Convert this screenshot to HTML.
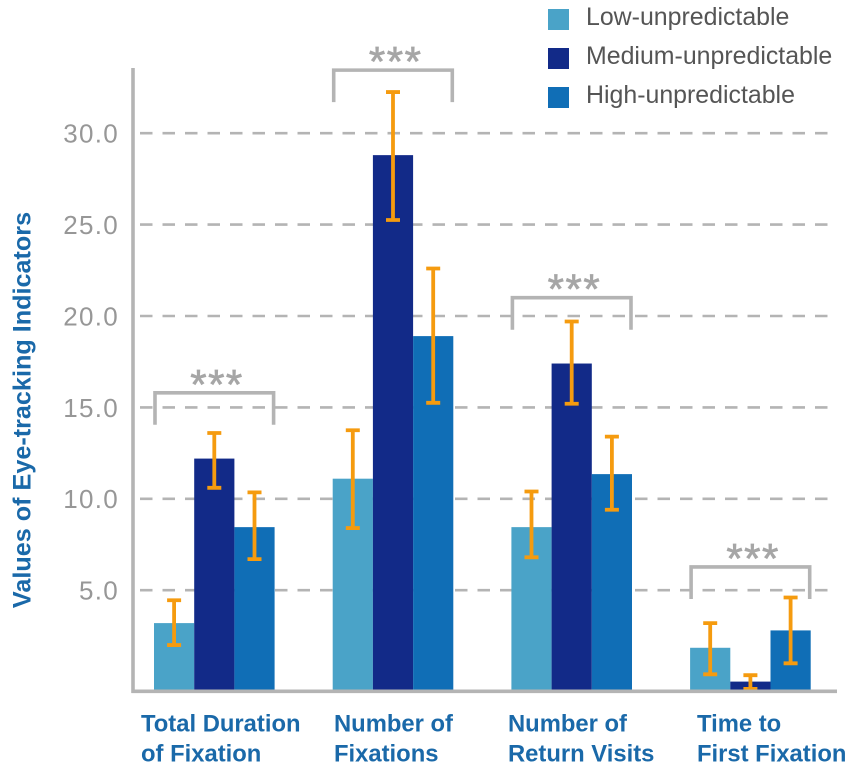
<!DOCTYPE html>
<html lang="en">
<head>
<meta charset="utf-8">
<title>Values of Eye-tracking Indicators</title>
<style>
html,body{margin:0;padding:0;background:#fff;width:851px;height:773px;overflow:hidden}
svg{display:block;font-family:"Liberation Sans",sans-serif}
</style>
</head>
<body>
<svg id="chart" xmlns="http://www.w3.org/2000/svg" width="851" height="773" viewBox="0 0 851 773"></svg>
<script>
const categories = [["Total Duration","of Fixation"],["Number of","Fixations"],["Number of","Return Visits"],["Time to","First Fixation"]];
const seriesNames = ["Low-unpredictable","Medium-unpredictable","High-unpredictable"];
const lowValues = [3.2, 11.1, 8.45, 1.85];
const mediumValues = [12.2, 28.8, 17.4, 0.0];
const highValues = [8.45, 18.9, 11.35, 2.8];
const lowErrTop = [4.45, 13.75, 10.4, 3.2];
const lowErrBottom = [2.0, 8.4, 6.8, 0.4];
const mediumErrTop = [13.6, 32.25, 19.7, 0.35];
const mediumErrBottom = [10.6, 25.25, 15.2, -0.4];
const highErrTop = [10.35, 22.6, 13.4, 4.6];
const highErrBottom = [6.7, 15.25, 9.4, 1.0];
const bracketLevels = [15.8, 33.45, 21.0, 6.27];
const yTicks = [5, 10, 15, 20, 25, 30];
const significance = ["***","***","***","***"];

const NS = "http://www.w3.org/2000/svg";
const svg = document.getElementById("chart");
const seriesColors = ["#4aa3c8","#122a88","#106eb6"];
const seriesKeys = ["low","medium","high"];
const values = [lowValues, mediumValues, highValues];
const errTop = [lowErrTop, mediumErrTop, highErrTop];
const errBottom = [lowErrBottom, mediumErrBottom, highErrBottom];
const baseY = 691;
const yScale = v => 681.6 - 18.28 * v;
const groupX = i => 154 + 178.7 * i;
const barW = 40.2;
const grey = "#b4b4b4";
const orange = "#f59b0f";
const blue = "#1a69a9";

function make(tag, attrs, text) {
  const el = document.createElementNS(NS, tag);
  for (const k in attrs) el.setAttribute(k, attrs[k]);
  if (text !== undefined) el.textContent = text;
  svg.appendChild(el);
  return el;
}

yTicks.forEach(t => {
  const g = make("line", {x1:140, x2:837, y1:yScale(t), y2:yScale(t), stroke:grey, "stroke-width":2.6, "stroke-dasharray":"12.5 10"});
  
  
  const l = make("text", {x:119, y:yScale(t) + 9.4, "text-anchor":"end", "font-size":26, "letter-spacing":"1.3px", fill:"#979797"}, t.toFixed(1));
  
  
});

categories.forEach((cat, i) => {
  values.forEach((vals, s) => {
    const top = yScale(vals[i]);
    const b = make("rect", {x:groupX(i) + s * barW, y:top, width:barW, height:baseY - top, fill:seriesColors[s]});
    
    
  });
});

categories.forEach((cat, i) => {
  values.forEach((vals, s) => {
    const cx = groupX(i) + (s + 0.5) * barW;
    const yT = yScale(errTop[s][i]);
    const yB = yScale(errBottom[s][i]);
    const e = make("path", {d:"M" + (cx - 7) + " " + yT + "H" + (cx + 7) + "M" + cx + " " + yT + "V" + yB + "M" + (cx - 7) + " " + yB + "H" + (cx + 7), fill:"none", stroke:orange, "stroke-width":3.8});
    
    
  });
  const left = groupX(i) + 1;
  const right = groupX(i) + barW * 3 - 1;
  const by = yScale(bracketLevels[i]);
  const br = make("path", {d:"M" + left + " " + (by + 32) + "V" + by + "H" + right + "V" + (by + 32), fill:"none", stroke:grey, "stroke-width":3.6});
  
  
  const st = make("text", {x:left + 62, y:by + 6, "text-anchor":"middle", "font-size":42, "letter-spacing":"1.5px", fill:"#a6a6a6", stroke:"#a6a6a6", "stroke-width":0.7}, significance[i]);
  
  
});

const yAxis = make("line", {x1:133, x2:133, y1:68, y2:693, stroke:grey, "stroke-width":3.6});


const xAxis = make("line", {x1:131.5, x2:837, y1:691.3, y2:691.3, stroke:grey, "stroke-width":3.6});



const catLeft = [141, 334, 508, 697];
categories.forEach((cat, i) => {
  cat.forEach((line, j) => {
    const c = make("text", {x:catLeft[i], y:731.5 + j * 30, "font-size":23.8, "font-weight":"bold", fill:blue}, line);
    
    
  });
});

const yTitle = make("text", {transform:"translate(30.5,410) rotate(-90)", "text-anchor":"middle", "font-size":25.2, "font-weight":"bold", fill:blue}, "Values of Eye-tracking Indicators");



seriesNames.forEach((name, s) => {
  const top = 9 + s * 39;
  const sw = make("rect", {x:548, y:top, width:21, height:21, fill:seriesColors[s]});
  
  
  const lt = make("text", {x:586, y:top + 16, "font-size":24.9, fill:"#555555"}, name);
  
  
});
</script>
</body>
</html>
